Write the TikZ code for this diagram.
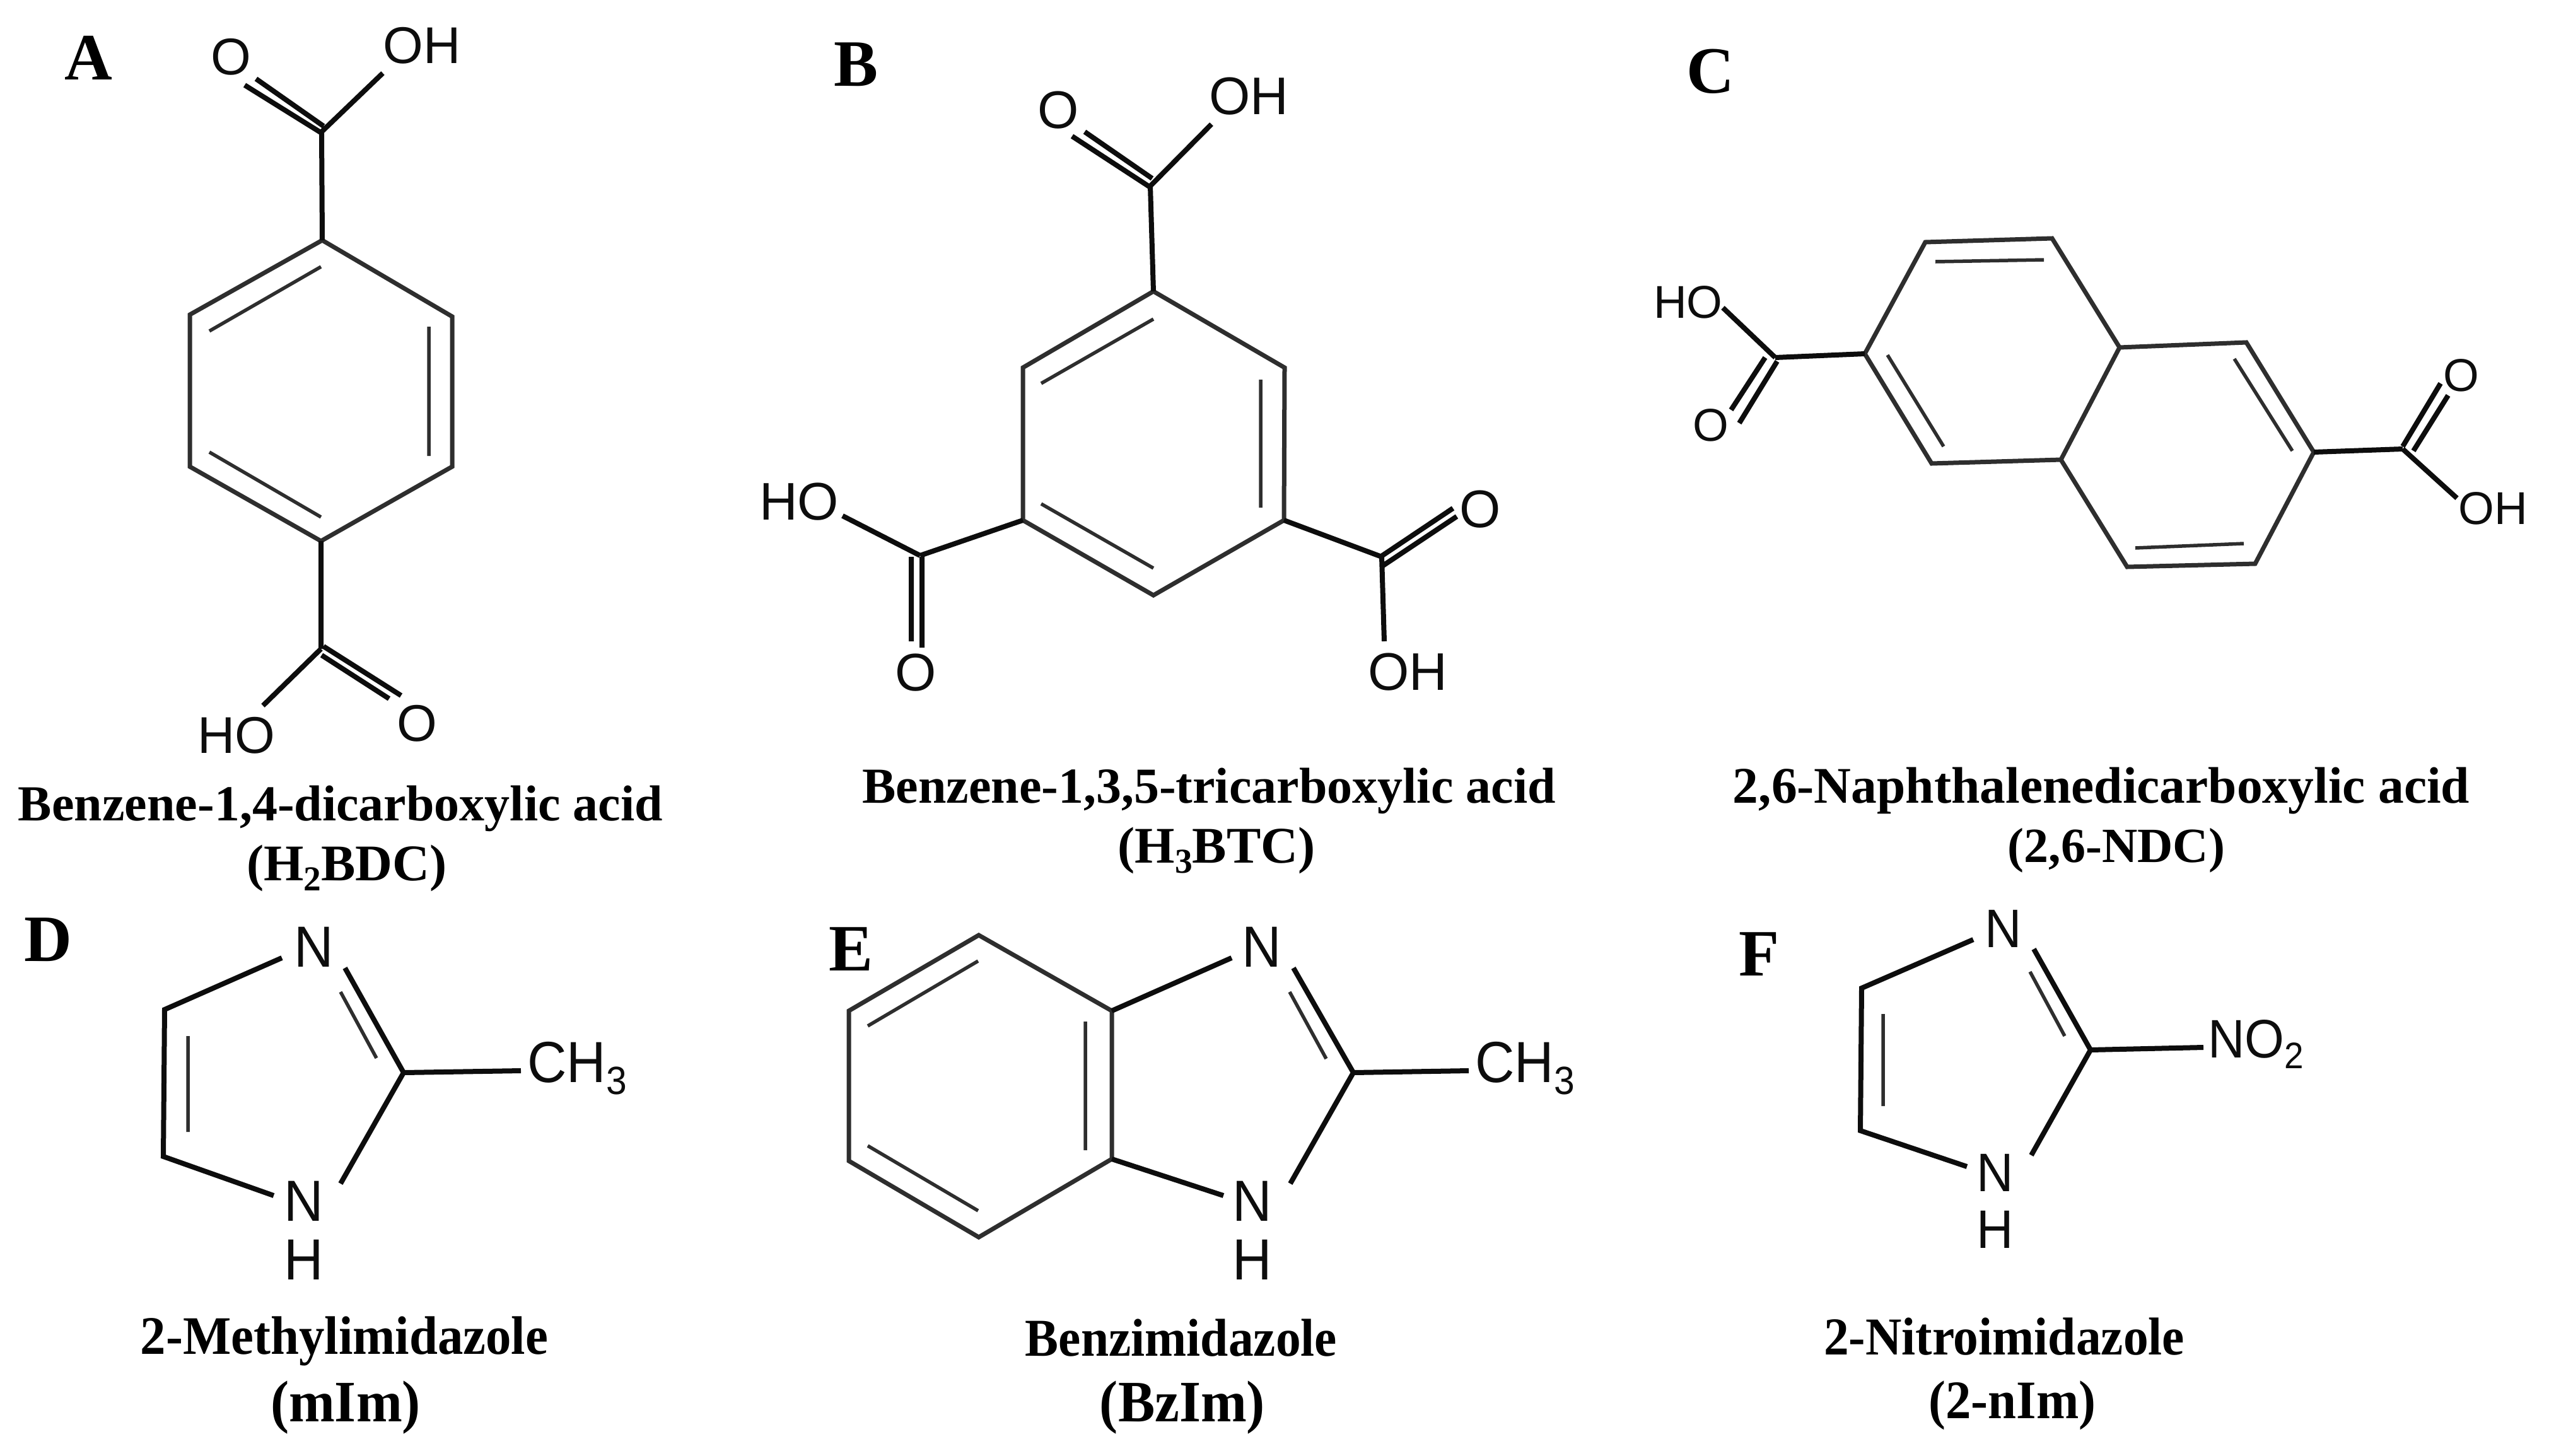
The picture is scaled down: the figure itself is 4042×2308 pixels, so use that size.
\documentclass[tikz,border=0pt]{standalone}
\usepackage{fontspec}
\setmainfont{Liberation Serif}
\newfontfamily\atomfont{Liberation Sans}
\definecolor{ringc}{HTML}{2E2E2E}
\definecolor{bondc}{HTML}{0D0D0D}
\newcommand{\subsc}[1]{\raisebox{-0.2em}{\scalebox{0.68}{#1}}}
\newcommand{\cond}[1]{\scalebox{0.94}[1]{#1}}
\tikzset{
  ring/.style={line width=7pt,draw=ringc,line join=miter},
  inner/.style={line width=5.5pt,draw=ringc},
  bond/.style={line width=8pt,draw=bondc},
  atomA/.style={font=\atomfont\fontsize{82}{90}\selectfont,inner sep=0pt,text=bondc},
  atomB/.style={font=\atomfont\fontsize{84}{90}\selectfont,inner sep=0pt,text=bondc},
  atomC/.style={font=\atomfont\fontsize{73}{80}\selectfont,inner sep=0pt,text=bondc},
  atomD/.style={font=\atomfont\fontsize{92}{95}\selectfont,inner sep=0pt,text=bondc},
  atomF/.style={font=\atomfont\fontsize{86}{90}\selectfont,inner sep=0pt,text=bondc},
  panel/.style={font=\bfseries\fontsize{105}{110}\selectfont,inner sep=0pt,text=black},
  capt/.style={font=\bfseries\fontsize{80}{90}\selectfont,inner sep=0pt,text=black},
  capc/.style={font=\bfseries\fontsize{81.5}{90}\selectfont,inner sep=0pt,text=black},
  capm/.style={font=\bfseries\fontsize{81.5}{90}\selectfont,inner sep=0pt,text=black},
  capn/.style={font=\bfseries\fontsize{78}{90}\selectfont,inner sep=0pt,text=black},
  capl/.style={font=\bfseries\fontsize{86}{95}\selectfont,inner sep=0pt,text=black},
  capk/.style={font=\bfseries\fontsize{84.5}{95}\selectfont,inner sep=0pt,text=black},
  captb/.style={font=\bfseries\fontsize{93}{100}\selectfont,inner sep=0pt,text=black},
}
\begin{document}
\begin{tikzpicture}[x=1pt,y=-1pt]
\useasboundingbox (0,0) rectangle (4042,2308);
\foreach \n/\x/\y in {
 a1/515/381,a2/721/502,a3/721/740,a4/513/858,a5/305/740,a6/305/499,
 ai1/336/525,ai2/513/423,ai3/684/518,ai4/684/723,ai5/336/717,ai6/513/820,
 ac1/514/209,ad1/392/135,ad2/410/125,ad3/517/200,ad4/514/211,ah1/611/116,
 ac2/513/1029,ah2/421/1119,ad5/514/1039,ad6/621/1108,ad7/517/1025,ad8/640/1103,
 b1/1833/462,b2/2041/583,b3/2040/825,b4/1833/944,b5/1626/825,b6/1626/583,
 bi1/1655/608,bi2/1833/506,bi3/2003/602,bi4/2003/805,bi5/1655/799,bi6/1833/901,
 bc1/1828/295,bd1/1704/216,bd2/1828/297,bd3/1724/209,bd4/1831/283,bh1/1925/197,
 bc2/1463/881,bh2/1340/818,bd5/1449/883,bd6/1449/1017,bd7/1466/883,bd8/1466/1027,
 bc3/2195/883,bh3/2199/1017,bd9/2193/883,bd10/2308/806,bd11/2197/897,bd12/2314/819,
 c1/3057/384,c2/3258/378,c3/3365/551,c4/3272/729,c5/3067/735,c6/2961/561,
 c7/3566/543,c8/3673/717,c9/3580/894,c10/3377/899,
 ci1/3073/415,ci2/3245/412,ci3/2997/563,ci4/3086/708,ci5/3547/569,ci6/3639/715,ci7/3390/869,ci8/3562/862,
 cc1/2819/567,ch1/2736/488,cd1/2803/567,cd2/2749/650,cd3/2822/573,cd4/2762/671,
 cc2/3814/712,ch2/3900/790,cd5/3814/708,cd6/3874/608,cd7/3831/715,cd8/3886/627,
 d1/451/1519,d2/265/1601,d3/263/1834,d4/438/1896,d5/644/1701,d6/551/1535,d7/544/1877,
 di1/544/1573,di2/601/1678,di3/302/1643,di4/302/1795,dm/830/1698,
 e1/1556/1483,e2/1350/1603,e3/1350/1841,e4/1556/1962,e5/1767/1838,e6/1767/1603,
 ei1/1380/1627,ei2/1555/1524,ei3/1380/1817,ei4/1555/1920,ei5/1725/1620,ei6/1725/1824,
 e7/1957/1519,e8/1944/1896,e9/2150/1701,e10/2055/1535,e11/2050/1877,
 ei7/2049/1573,ei8/2107/1679,em/2333/1698,
 f1/3133/1490,f2/2956/1567,f3/2954/1793,f4/3123/1850,f5/3319/1665,f6/3229/1505,f7/3225/1832,
 fi1/3223/1541,fi2/3278/1643,fi3/2990/1608,fi4/2990/1754,fm/3498/1661%
}{\coordinate (\n) at ({\x-4},\y);}

% panel letters
\node[panel] (lA) at (140,92) {A};
\node[panel] (lB) at (1358,102) {B};
\node[panel] (lC) at (2712,113) {C};
\node[panel] (lD) at (76,1490) {D};
\node[panel] (lE) at (1350,1505) {E};
\node[panel] (lF) at (2790,1513) {F};

% A
\draw[ring] (a1)--(a2)--(a3)--(a4)--(a5)--(a6)--cycle;
\draw[inner] (ai1)--(ai2) (ai3)--(ai4) (ai5)--(ai6);
\draw[bond] (a1)--(ac1) (a4)--(ac2);
\draw[bond] (ad1)--(ad4) (ad2)--(ad3) (ac1)--(ah1);
\draw[bond] (ad5)--(ad6) (ad7)--(ad8) (ac2)--(ah2);
\node[atomA] (aO1) at (366,90) {O};
\node[atomA] (aH1) at (669,72) {OH};
\node[atomA] (aH2) at (375,1166) {HO};
\node[atomA] (aO2) at (661,1147) {O};
\node[capt] (ta1) at (540,1282) {Benzene-1,4-dicarboxylic acid};
\node[capm] (ta2) at (550,1377) {(H\subsc{2}BDC)};

% B
\draw[ring] (b1)--(b2)--(b3)--(b4)--(b5)--(b6)--cycle;
\draw[inner] (bi1)--(bi2) (bi3)--(bi4) (bi5)--(bi6);
\draw[bond] (b1)--(bc1) (b5)--(bc2) (b3)--(bc3);
\draw[bond] (bd1)--(bd2) (bd3)--(bd4) (bc1)--(bh1);
\draw[bond] (bc2)--(bh2) (bd5)--(bd6) (bd7)--(bd8);
\draw[bond] (bc3)--(bh3) (bd9)--(bd10) (bd11)--(bd12);
\node[atomB] (bO1) at (1678,175) {O};
\node[atomB] (bH1) at (1980,153) {OH};
\node[atomB] (bH2) at (1267,796) {HO};
\node[atomB] (bO2) at (1452,1067) {O};
\node[atomB] (bH3) at (2232,1066) {OH};
\node[atomB] (bO3) at (2347,808) {O};
\node[capt] (tb1) at (1917,1254) {Benzene-1,3,5-tricarboxylic acid};
\node[capm] (tb2) at (1929,1349) {(H\subsc{3}BTC)};

% C
\draw[ring] (c1)--(c2)--(c3)--(c4)--(c5)--(c6)--cycle;
\draw[ring] (c3)--(c7)--(c8)--(c9)--(c10)--(c4);
\draw[inner] (ci1)--(ci2) (ci3)--(ci4) (ci5)--(ci6) (ci7)--(ci8);
\draw[bond] (c6)--(cc1) (c8)--(cc2);
\draw[bond] (cc1)--(ch1) (cd1)--(cd2) (cd3)--(cd4);
\draw[bond] (cc2)--(ch2) (cd5)--(cd6) (cd7)--(cd8);
\node[atomC] (cH1) at (2677,479) {HO};
\node[atomC] (cO1) at (2713,674) {O};
\node[atomC] (cO2) at (3903,595) {O};
\node[atomC] (cH2) at (3953,806) {OH};
\node[capc] (tc1) at (3332,1254) {2,6-Naphthalenedicarboxylic acid};
\node[capn] (tc2) at (3356,1349) {(2,6-NDC)};

% D
\draw[bond] (d1)--(d2)--(d3)--(d4) (d6)--(d5)--(d7) (d5)--(dm);
\draw[inner] (di1)--(di2) (di3)--(di4);
\node[atomD] (dN1) at (498,1502) {\cond{N}};
\node[atomD] (dN2) at (482,1905) {\cond{N}};
\node[atomD] (dH) at (482,1998) {\cond{H}};
\node[atomD,anchor=west] (dCH) at (836,1694) {\cond{CH\subsc{3}}};
\node[capl] (td1) at (546,2127) {\cond{2-Methylimidazole}};
\node[captb] (td2) at (548,2232) {\cond{(mIm)}};

% E
\draw[ring] (e1)--(e2)--(e3)--(e4)--(e5)--(e6)--cycle;
\draw[inner] (ei1)--(ei2) (ei3)--(ei4) (ei5)--(ei6);
\draw[bond] (e6)--(e7) (e5)--(e8) (e10)--(e9)--(e11) (e9)--(em);
\draw[inner] (ei7)--(ei8);
\node[atomD] (eN1) at (2001,1502) {\cond{N}};
\node[atomD] (eN2) at (1986,1905) {\cond{N}};
\node[atomD] (eH) at (1986,1998) {\cond{H}};
\node[atomD,anchor=west] (eCH) at (2339,1694) {\cond{CH\subsc{3}}};
\node[capk] (te1) at (1873,2122) {\cond{Benzimidazole}};
\node[captb] (te2) at (1875,2232) {\cond{(BzIm)}};

% F
\draw[bond] (f1)--(f2)--(f3)--(f4) (f6)--(f5)--(f7) (f5)--(fm);
\draw[inner] (fi1)--(fi2) (fi3)--(fi4);
\node[atomF] (fN1) at (3177,1473) {\cond{N}};
\node[atomF] (fN2) at (3164,1860) {\cond{N}};
\node[atomF] (fH) at (3164,1950) {\cond{H}};
\node[atomF,anchor=west] (fNO) at (3501,1656) {\cond{NO\subsc{2}}};
\node[capk] (tf1) at (3178,2120) {\cond{2-Nitroimidazole}};
\node[capl] (tf2) at (3191,2229) {\cond{(2-nIm)}};
\end{tikzpicture}
\end{document}
